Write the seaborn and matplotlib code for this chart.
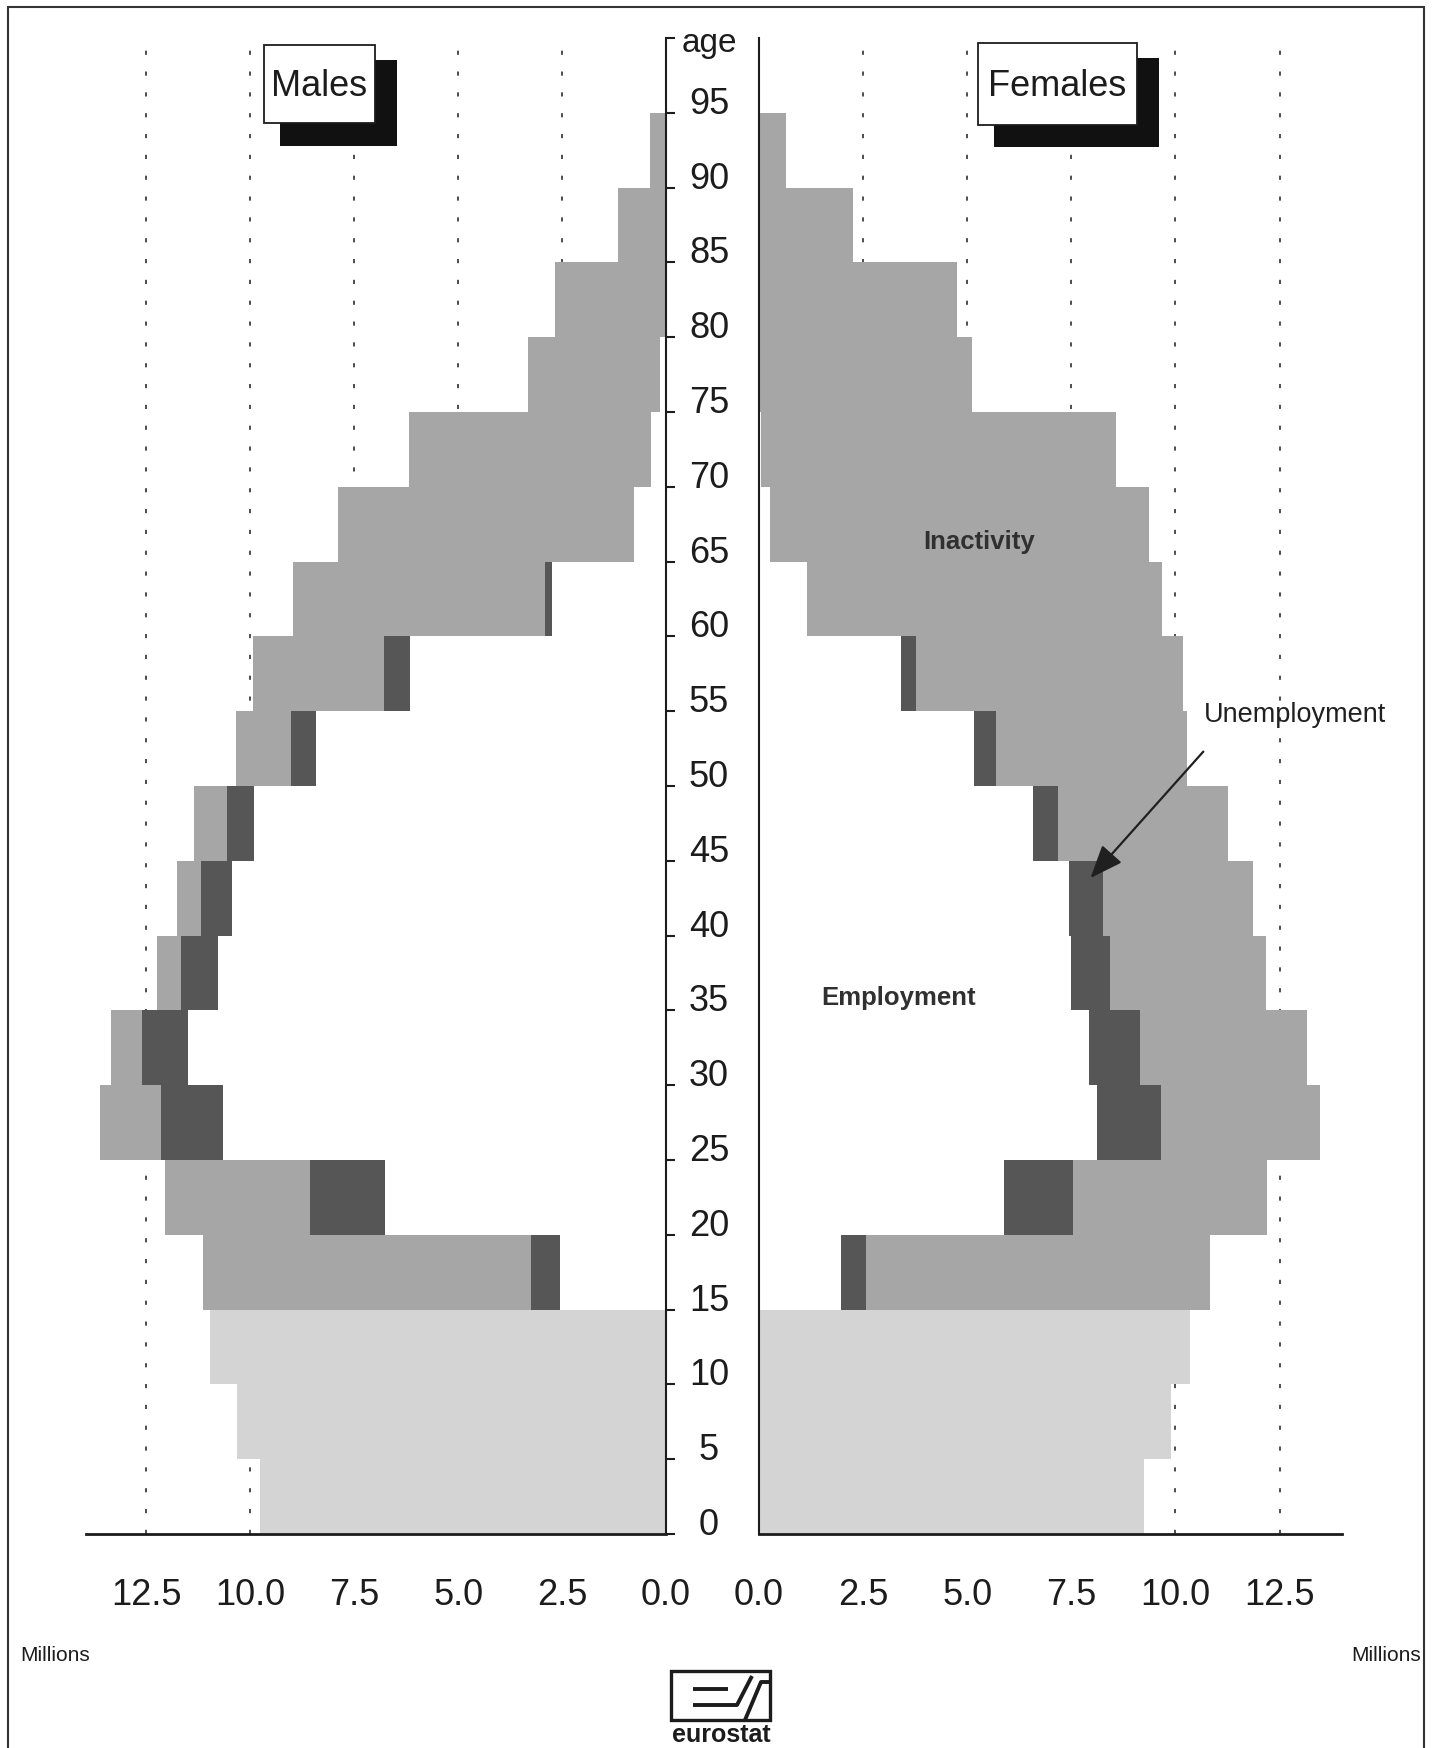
import numpy as np
import pandas as pd
import matplotlib
matplotlib.use("Agg")
import matplotlib.pyplot as plt
import seaborn as sns
from matplotlib.patches import Rectangle

# ---------------- data (millions) ----------------
age_start = [0, 5, 10, 15, 20, 25, 30, 35, 40, 45, 50, 55, 60, 65, 70, 75, 80, 85, 90]
age_ticks = [0, 5, 10, 15, 20, 25, 30, 35, 40, 45, 50, 55, 60, 65, 70, 75, 80, 85, 90, 95, 100]
age_tick_labels = ["0", "5", "10", "15", "20", "25", "30", "35", "40", "45", "50",
                   "55", "60", "65", "70", "75", "80", "85", "90", "95", ""]
x_tick_values = [0.0, 2.5, 5.0, 7.5, 10.0, 12.5]
x_tick_labels = ["0.0", "2.5", "5.0", "7.5", "10.0", "12.5"]

# under 15 (ages 0-4, 5-9, 10-14)
male_children = [9.76, 10.33, 10.96]
female_children = [9.24, 9.90, 10.36]

# ages 15-19 ... 90-94
male_employment = [2.55, 6.76, 10.65, 11.49, 10.78, 10.43, 9.92, 8.42, 6.15, 2.74, 0.76, 0.36, 0.15, 0.0, 0.0, 0.0]
male_unemployment = [0.70, 1.80, 1.50, 1.12, 0.88, 0.75, 0.64, 0.59, 0.63, 0.17, 0.0, 0.0, 0.0, 0.0, 0.0, 0.0]
male_inactivity = [7.89, 3.48, 1.47, 0.74, 0.59, 0.59, 0.79, 1.33, 3.16, 6.06, 7.13, 5.83, 3.17, 2.66, 1.15, 0.38]

female_employment = [1.98, 5.88, 8.12, 7.92, 7.50, 7.45, 6.57, 5.16, 3.40, 1.16, 0.27, 0.05, 0.0, 0.0, 0.0, 0.0]
female_unemployment = [0.60, 1.66, 1.54, 1.23, 0.94, 0.80, 0.61, 0.53, 0.37, 0.0, 0.0, 0.0, 0.0, 0.0, 0.0, 0.0]
female_inactivity = [8.25, 4.67, 3.80, 4.01, 3.73, 3.62, 4.08, 4.58, 6.42, 8.52, 9.10, 8.53, 5.11, 4.75, 2.26, 0.65]

# ---------------- style ----------------
sns.set_style("white")
plt.rcParams["font.family"] = ["Liberation Sans", "DejaVu Sans"]
plt.rcParams["lines.scale_dashes"] = False

child_color = "#d4d4d4"
inact_color = "#a6a6a6"
unemp_color = "#565656"
emp_color = "#ffffff"
ink = "#1c1c1c"

W, H = 1437, 1749
fig = plt.figure(figsize=(W / 100, H / 100), dpi=100)
fig.patch.set_facecolor("white")


def fx(x):
    return x / W


def fy(y):
    return 1 - y / H


ax_m = fig.add_axes([fx(86), fy(1535), (666 - 86) / W, (1535 - 39) / H])
ax_f = fig.add_axes([fx(759), fy(1535), (1342 - 759) / W, (1535 - 39) / H])

age_mid = [a + 2.5 for a in age_start]


def draw_side(ax, children, emp, unemp, inact):
    young = pd.DataFrame({"age": age_mid[:3], "value": children})
    emp_a = np.array(emp)
    eu = emp_a + np.array(unemp)
    tot = eu + np.array(inact)
    adult = pd.DataFrame({"age": age_mid[3:], "total": tot, "eu": eu, "emp": emp_a})
    common = dict(orient="h", native_scale=True, width=1, saturation=1,
                  errorbar=None, linewidth=0, edgecolor="none", ax=ax)
    sns.barplot(data=young, x="value", y="age", color=child_color, **common)
    sns.barplot(data=adult, x="total", y="age", color=inact_color, **common)
    sns.barplot(data=adult, x="eu", y="age", color=unemp_color, **common)
    sns.barplot(data=adult, x="emp", y="age", color=emp_color, **common)
    for v in x_tick_values[1:]:
        ax.axvline(v, color=ink, lw=1.1, linestyle=(0, (3.0, 12.0)), zorder=0.5)
    ax.set_ylim(0, 100)
    ax.set_xlabel("")
    ax.set_ylabel("")
    ax.set_facecolor("none")
    ax.set_xticks(x_tick_values, x_tick_labels)
    ax.tick_params(axis="x", direction="inout", length=14, width=1.5, pad=24,
                   labelsize=26, colors=ink)
    ax.spines["bottom"].set_linewidth(2.0)
    ax.spines["bottom"].set_color(ink)


draw_side(ax_m, male_children, male_employment, male_unemployment, male_inactivity)
draw_side(ax_f, female_children, female_employment, female_unemployment, female_inactivity)

# male axes: inverted x, age axis on the right with centred labels
ax_m.set_xlim(13.95, 0)
ax_m.spines["top"].set_visible(False)
ax_m.spines["left"].set_visible(False)
ax_m.spines["right"].set_linewidth(1.5)
ax_m.spines["right"].set_color(ink)
ax_m.yaxis.tick_right()
ax_m.set_yticks(age_ticks, age_tick_labels, ha="center", va="baseline")
ax_m.tick_params(axis="y", direction="out", length=6.5, width=1.5, pad=24.5,
                 labelsize=26, colors=ink)

ax_f.set_xlim(0, 14.0)
ax_f.spines["top"].set_visible(False)
ax_f.spines["right"].set_visible(False)
ax_f.spines["left"].set_linewidth(1.5)
ax_f.spines["left"].set_color(ink)
ax_f.set_yticks(age_ticks, [""] * len(age_ticks))
ax_f.tick_params(axis="y", direction="out", length=6.5, width=1.5, colors=ink)

# annotations inside the female panel
ax_f.text(5.29, 66.4, "Inactivity", ha="center", va="center", fontsize=18.5,
          fontweight="bold", color="#303030", zorder=5)
ax_f.text(3.34, 35.9, "Employment", ha="center", va="center", fontsize=18.5,
          fontweight="bold", color="#303030", zorder=5)
ax_f.text(12.88, 54.8, "Unemployment", ha="center", va="center", fontsize=19.5,
          color="#202020", zorder=5)
ax_f.annotate("", xy=(7.96, 43.85), xytext=(10.67, 52.3),
              arrowprops=dict(arrowstyle="-|>,head_length=0.45,head_width=0.18",
                              mutation_scale=45, lw=1.6, color="#202020",
                              shrinkA=0, shrinkB=0), zorder=6)

# "age" label
fig.text(fx(709), fy(52), "age", ha="center", va="baseline", fontsize=24, color=ink)


# Males / Females boxes with shadow
def label_box(x0, y0, x1, y1, sx0, sy0, sx1, sy1, text, cx, cy):
    fig.add_artist(Rectangle((fx(sx0), fy(sy1)), (sx1 - sx0) / W, (sy1 - sy0) / H,
                             transform=fig.transFigure, facecolor="#111111",
                             edgecolor="none", zorder=3))
    fig.add_artist(Rectangle((fx(x0), fy(y1)), (x1 - x0) / W, (y1 - y0) / H,
                             transform=fig.transFigure, facecolor="white",
                             edgecolor=ink, lw=1.3, zorder=4))
    fig.text(fx(cx), fy(cy), text, ha="center", va="center", fontsize=26,
             color=ink, zorder=5)


label_box(264, 46, 375, 124, 280, 61, 397, 147, "Males", 319.5, 86)
label_box(978, 44, 1137, 126, 994, 59, 1159, 148, "Females", 1057.5, 86)

# "Millions" labels
fig.text(fx(55), fy(1656), "Millions", ha="center", va="center", fontsize=15, color=ink)
fig.text(fx(1386), fy(1656), "Millions", ha="center", va="center", fontsize=15, color=ink)

# outer frame
fig.add_artist(Rectangle((fx(8), fy(1765)), (1424 - 8) / W, (1765 - 8) / H,
                         transform=fig.transFigure, fill=False, lw=1.5,
                         edgecolor="#333333", zorder=2, clip_on=False))

# eurostat logo
ax_l = fig.add_axes([fx(660), fy(1749), (790 - 660) / W, (1749 - 1660) / H])
ax_l.set_xlim(660, 790)
ax_l.set_ylim(1749, 1660)
ax_l.axis("off")
ax_l.add_patch(Rectangle((671, 1672), 99, 49, fill=False, lw=2.4, edgecolor=ink))
ax_l.plot([693, 728], [1690, 1690], color=ink, lw=2.8, solid_capstyle="butt")
ax_l.plot([693, 737, 752], [1706, 1706, 1677], color=ink, lw=2.8, solid_capstyle="butt")
ax_l.plot([745, 761, 770], [1721, 1683, 1683], color=ink, lw=2.8, solid_capstyle="butt")
ax_l.text(721, 1735, "eurostat", ha="center", va="center", fontsize=18,
          fontweight="bold", color=ink)

fig.savefig("out.png", dpi=100, facecolor="white")
